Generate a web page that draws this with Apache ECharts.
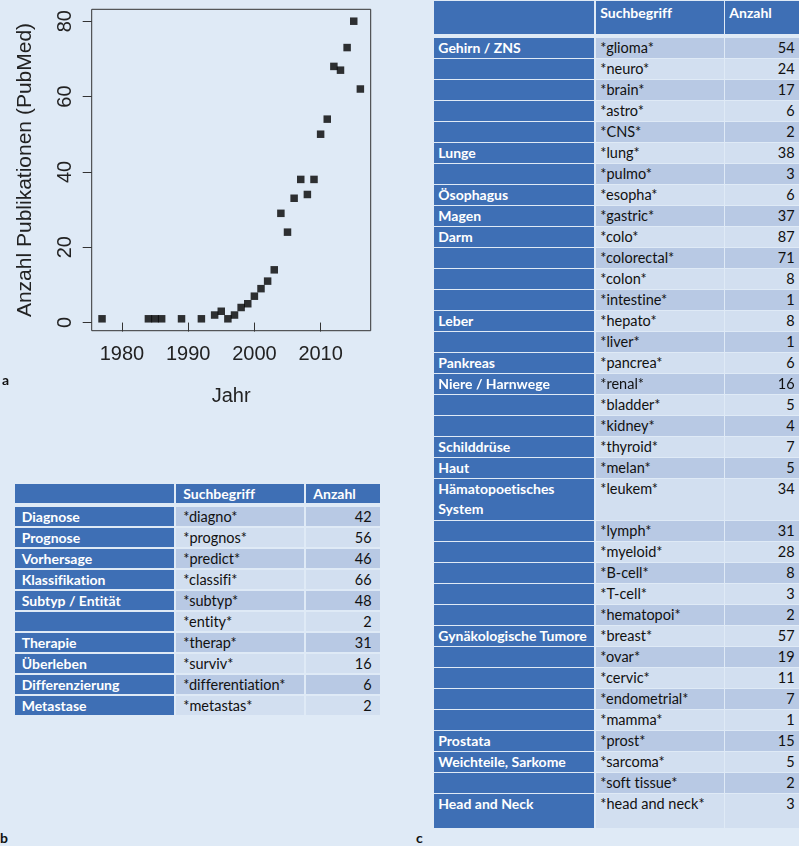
<!DOCTYPE html>
<html lang="de">
<head>
    <meta charset="utf-8" />
    <title>Publikationen und Suchbegriffe</title>
    <style>
        html,
        body {
            width: 799px;
            height: 846px;
            margin: 0;
            background: #dfeaf6;
            overflow: hidden;
        }

        #plotA {
            position: absolute;
            left: 0;
            top: 0;
            width: 400px;
            height: 420px;
        }

        .panel {
            position: absolute;
            font: bold 14px Lato, sans-serif;
            color: #111;
        }

        .cell {
            position: absolute;
            box-sizing: border-box;
            font: 14.5px/19px Lato, sans-serif;
            font-variant-ligatures: none;
            color: #111;
            white-space: nowrap;
            overflow: hidden;
        }

        .dark {
            background: #3e6fb5;
            color: #fff;
            font-weight: bold;
            font-size: 14px;
        }

        .mid { background: #b8c9e4; }
        .light { background: #d2dff0; }
        .num { text-align: right; }
        .wrap { white-space: normal; line-height: 20px; }
    </style>
</head>
<body>
    <div id="plotA"></div>
    <div class="panel" style="left:2px;top:371px">a</div>
    <div class="panel" style="left:0px;top:829px">b</div>
    <div class="panel" style="left:416px;top:829px">c</div>
    <div id="tableB"></div>
    <div id="tableC"></div>

    <script src="https://cdn.jsdelivr.net/npm/echarts@6/dist/echarts.min.js"></script>
    <script type="text/javascript">
        // a: Publikationen pro Jahr
        var jahre = [1977, 1984, 1985, 1986, 1989, 1992, 1994, 1995, 1996, 1997, 1998, 1999, 2000, 2001, 2002,
            2003, 2004, 2005, 2006, 2007, 2008, 2009, 2010, 2011, 2012, 2013, 2014, 2015, 2016];
        var anzahl = [1, 1, 1, 1, 1, 1, 2, 3, 1, 2, 4, 5, 7, 9, 11,
            14, 29, 24, 33, 38, 34, 38, 50, 54, 68, 67, 73, 80, 62];
        var xTicks = [1980, 1990, 2000, 2010];
        var yTicks = [0, 20, 40, 60, 80];

        // b: allgemeine Suchbegriffe
        var themenB = ['Diagnose', 'Prognose', 'Vorhersage', 'Klassifikation', 'Subtyp / Entität', '',
            'Therapie', 'Überleben', 'Differenzierung', 'Metastase'];
        var begriffeB = ['*diagno*', '*prognos*', '*predict*', '*classifi*', '*subtyp*', '*entity*',
            '*therap*', '*surviv*', '*differentiation*', '*metastas*'];
        var anzahlB = [42, 56, 46, 66, 48, 2, 31, 16, 6, 2];

        // c: Organsysteme
        var themenC = ['Gehirn / ZNS', '', '', '', '', 'Lunge', '', 'Ösophagus', 'Magen', 'Darm', '', '', '',
            'Leber', '', 'Pankreas', 'Niere / Harnwege', '', '', 'Schilddrüse', 'Haut', 'Hämatopoetisches System',
            '', '', '', '', '', 'Gynäkologische Tumore', '', '', '', '', 'Prostata', 'Weichteile, Sarkome', '',
            'Head and Neck'];
        var begriffeC = ['*glioma*', '*neuro*', '*brain*', '*astro*', '*CNS*', '*lung*', '*pulmo*', '*esopha*',
            '*gastric*', '*colo*', '*colorectal*', '*colon*', '*intestine*', '*hepato*', '*liver*', '*pancrea*',
            '*renal*', '*bladder*', '*kidney*', '*thyroid*', '*melan*', '*leukem*', '*lymph*', '*myeloid*',
            '*B-cell*', '*T-cell*', '*hematopoi*', '*breast*', '*ovar*', '*cervic*', '*endometrial*', '*mamma*',
            '*prost*', '*sarcoma*', '*soft tissue*', '*head and neck*'];
        var anzahlC = [54, 24, 17, 6, 2, 38, 3, 6, 37, 87, 71, 8, 1, 8, 1, 6, 16, 5, 4, 7, 5, 34,
            31, 28, 8, 3, 2, 57, 19, 11, 7, 1, 15, 5, 2, 3];

        var chartA = echarts.init(document.getElementById('plotA'));
        var axisFont = { fontFamily: 'Liberation Sans', fontSize: 20, color: '#222' };
        var plain = function (v) { return String(v); };

        chartA.setOption({
            animation: false,
            textStyle: { fontFamily: 'Liberation Sans' },
            grid: {
                left: 91.7, top: 9.3, width: 279, height: 321.4,
                show: true, borderColor: '#333', borderWidth: 1
            },
            xAxis: {
                type: 'value',
                min: 1975.44, max: 2017.56,
                name: 'Jahr',
                nameLocation: 'middle',
                nameGap: 56,
                nameTextStyle: axisFont,
                axisLine: { show: false },
                axisTick: { show: true, length: 9, customValues: xTicks, lineStyle: { color: '#333' } },
                axisLabel: Object.assign({ margin: 14, customValues: xTicks, formatter: plain }, axisFont),
                splitLine: { show: false }
            },
            yAxis: {
                type: 'value',
                min: -2.16, max: 83.16,
                name: 'Anzahl Publikationen (PubMed)',
                nameLocation: 'middle',
                nameRotate: 90,
                nameGap: 56,
                nameTextStyle: Object.assign({}, axisFont, { fontSize: 21 }),
                axisLine: { show: false },
                axisTick: { show: true, length: 9, customValues: yTicks, lineStyle: { color: '#333' } },
                axisLabel: Object.assign({ margin: 16, rotate: 90, customValues: yTicks, formatter: plain }, axisFont),
                splitLine: { show: false }
            },
            series: [{
                type: 'scatter',
                symbol: 'rect',
                symbolSize: 7.5,
                itemStyle: { color: '#000' },
                data: jahre.map(function (j, i) { return [j, anzahl[i]]; })
            }]
        });

        // Tabellen als Zellen aufbauen
        function cell(host, text, cls, x, y, w, h, pad) {
            var d = document.createElement('div');
            d.className = 'cell ' + cls;
            d.style.left = x + 'px';
            d.style.top = y + 'px';
            d.style.width = w + 'px';
            d.style.height = h + 'px';
            d.style.paddingLeft = pad[0] + 'px';
            d.style.paddingRight = pad[1] + 'px';
            d.style.paddingTop = pad[2] + 'px';
            d.textContent = text;
            host.appendChild(d);
            return d;
        }

        function buildTable(hostId, lay, themen, begriffe, werte) {
            var host = document.getElementById(hostId);
            var cx = lay.colX, cw = lay.colW;
            cell(host, '', 'dark', cx[0], lay.top, cw[0], lay.headH, [lay.pad[0], 0, lay.headPad]);
            cell(host, 'Suchbegriff', 'dark', cx[1], lay.top, cw[1], lay.headH, [lay.pad[1], 0, lay.headPad]);
            cell(host, 'Anzahl', 'dark', cx[2], lay.top, cw[2], lay.headH, [lay.pad[2], 0, lay.headPad]);
            var slot = 0;
            for (var i = 0; i < begriffe.length; i++) {
                var y = lay.rowTop + slot * lay.pitch;
                var span = (lay.tall && lay.tall[i]) || 1;
                var h = span * lay.pitch - (lay.pitch - lay.rowH);
                if (lay.lastH && i === begriffe.length - 1) h = lay.lastH;
                var shade = (i % 2 === 0) ? 'mid' : 'light';
                var padT = (lay.rowH - 19) / 2;
                cell(host, themen[i], 'dark wrap', cx[0], y, cw[0], h, [lay.pad[0], 2, padT]);
                cell(host, begriffe[i], shade, cx[1], y, cw[1], h, [lay.pad[1], 0, padT]);
                cell(host, String(werte[i]), shade + ' num', cx[2], y, cw[2], h, [0, lay.pad[3], padT]);
                slot += span;
            }
        }

        buildTable('tableB', {
            colX: [15, 175.7, 305.7], colW: [159.3, 128.6, 74.3],
            top: 484.3, headH: 18.4, headPad: 0,
            rowTop: 506.7, pitch: 21, rowH: 19.3,
            pad: [6.7, 7.6, 7.6, 8.3]
        }, themenB, begriffeB, anzahlB);

        var tallC = {};
        tallC[21] = 2;
        buildTable('tableC', {
            colX: [434, 595.7, 725.3], colW: [160.3, 128.3, 75],
            top: 1, headH: 33, headPad: 2,
            rowTop: 38.3, pitch: 21, rowH: 19.3, tall: tallC, lastH: 34,
            pad: [4.3, 4.6, 4, 5.7]
        }, themenC, begriffeC, anzahlC);
    </script>
</body>
</html>
